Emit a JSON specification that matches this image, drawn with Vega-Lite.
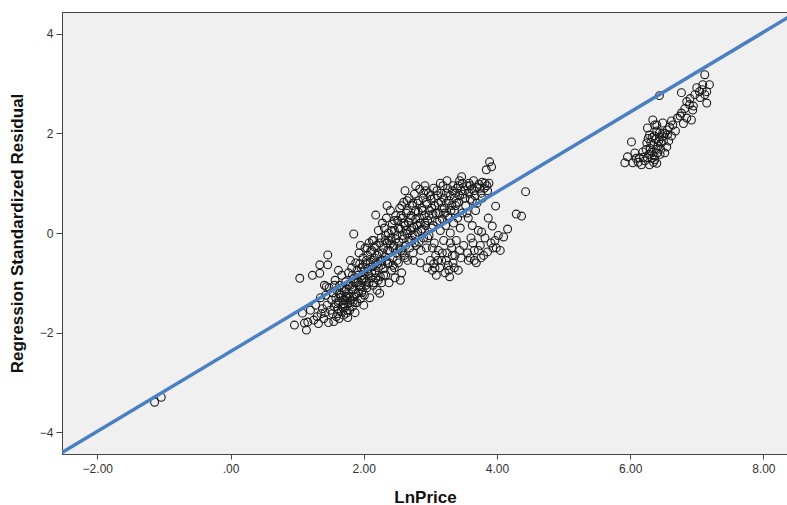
{
  "$schema": "https://vega.github.io/schema/vega-lite/v6.json",
  "width": 726,
  "height": 442,
  "autosize": {"type": "none"},
  "padding": {"left": 62, "top": 12, "right": 0, "bottom": 51},
  "background": "white",
  "config": {
    "view": {"fill": "#f0f0f0", "stroke": "#444444", "strokeWidth": 1},
    "font": "Liberation Sans",
    "axis": {"labelFont": "Liberation Sans", "titleFont": "Liberation Sans"}
  },
  "datasets": {
    "pts": [
      {"x":-1.14,"y":-3.40},{"x":-1.04,"y":-3.30},
      {"x":0.96,"y":-1.85},{"x":1.04,"y":-0.91},{"x":1.11,"y":-1.81},{"x":1.16,"y":-1.79},{"x":1.14,"y":-1.95},{"x":1.08,"y":-1.61},{"x":1.23,"y":-0.85},{"x":1.20,"y":-1.55},{"x":1.25,"y":-1.75},{"x":1.28,"y":-1.45},{"x":1.30,"y":-1.68},
      {"x":1.34,"y":-0.64},{"x":1.46,"y":-0.64},{"x":1.34,"y":-0.81},{"x":1.35,"y":-1.30},{"x":1.38,"y":-1.52},{"x":1.40,"y":-1.72},{"x":1.42,"y":-1.60},{"x":1.43,"y":-1.25},{"x":1.45,"y":-1.45},{"x":1.46,"y":-0.44},{"x":1.47,"y":-1.80},{"x":1.48,"y":-1.10},{"x":1.50,"y":-1.55},{"x":1.44,"y":-1.08},{"x":1.41,"y":-1.05},{"x":1.36,"y":-1.62},{"x":1.32,"y":-1.82},
      {"x":1.52,"y":-1.35},{"x":1.53,"y":-1.62},{"x":1.54,"y":-1.20},{"x":1.55,"y":-1.78},{"x":1.56,"y":-1.48},{"x":1.57,"y":-0.95},{"x":1.58,"y":-1.30},{"x":1.59,"y":-1.68},{"x":1.60,"y":-1.15},{"x":1.61,"y":-1.52},{"x":1.62,"y":-1.40},{"x":1.63,"y":-1.72},{"x":1.64,"y":-1.05},{"x":1.65,"y":-1.25},{"x":1.66,"y":-1.58},{"x":1.67,"y":-0.85},{"x":1.68,"y":-1.45},{"x":1.69,"y":-1.35},{"x":1.70,"y":-1.65},{"x":1.62,"y":-0.75},{"x":1.56,"y":-1.05},{"x":1.58,"y":-1.42},{"x":1.66,"y":-1.30},{"x":1.61,"y":-1.62},
      {"x":1.71,"y":-1.18},{"x":1.72,"y":-1.50},{"x":1.73,"y":-0.98},{"x":1.74,"y":-1.61},{"x":1.75,"y":-1.30},{"x":1.76,"y":-1.42},{"x":1.77,"y":-0.80},{"x":1.78,"y":-1.22},{"x":1.79,"y":-1.55},{"x":1.80,"y":-1.05},{"x":1.81,"y":-1.35},{"x":1.82,"y":-0.70},{"x":1.83,"y":-1.48},{"x":1.84,"y":-1.15},{"x":1.85,"y":-0.02},{"x":1.85,"y":-0.92},{"x":1.86,"y":-1.28},{"x":1.87,"y":-1.60},{"x":1.88,"y":-0.60},{"x":1.89,"y":-1.00},{"x":1.90,"y":-1.40},{"x":1.76,"y":-1.70},{"x":1.80,"y":-0.55},{"x":1.74,"y":-1.12},{"x":1.84,"y":-1.38},
      {"x":1.63,"y":-1.22},{"x":1.67,"y":-1.10},{"x":1.70,"y":-1.42},{"x":1.73,"y":-1.28},{"x":1.77,"y":-1.05},{"x":1.79,"y":-1.30},{"x":1.82,"y":-1.12},{"x":1.86,"y":-0.98},{"x":1.88,"y":-1.22},{"x":1.90,"y":-0.75},{"x":1.92,"y":-0.98},{"x":1.94,"y":-0.62},{"x":1.96,"y":-1.08},{"x":1.98,"y":-0.85},{"x":1.99,"y":-0.68},{"x":1.72,"y":-1.35},{"x":1.75,"y":-1.55},{"x":1.83,"y":-0.85},{"x":1.87,"y":-1.40},{"x":1.69,"y":-1.50},
      {"x":1.91,"y":-0.85},{"x":1.92,"y":-1.20},{"x":1.93,"y":-0.40},{"x":1.94,"y":-1.05},{"x":1.95,"y":-1.32},{"x":1.96,"y":-0.70},{"x":1.97,"y":-0.95},{"x":1.98,"y":-1.15},{"x":1.99,"y":-0.50},{"x":2.00,"y":-0.78},{"x":2.01,"y":-1.25},{"x":2.02,"y":-0.30},{"x":2.03,"y":-0.62},{"x":2.04,"y":-0.98},{"x":2.05,"y":-1.10},{"x":2.06,"y":-0.45},{"x":2.07,"y":-0.82},{"x":2.08,"y":-0.20},{"x":2.09,"y":-1.30},{"x":2.10,"y":-0.58},{"x":2.00,"y":-1.45},{"x":1.95,"y":-0.25},{"x":2.03,"y":-1.05},{"x":1.97,"y":-1.20},
      {"x":2.01,"y":-0.92},{"x":2.04,"y":-0.55},{"x":2.06,"y":-0.72},{"x":2.08,"y":-1.00},{"x":2.10,"y":-0.38},{"x":2.12,"y":-0.80},{"x":2.14,"y":-0.55},{"x":2.16,"y":-0.28},{"x":2.18,"y":-0.90},{"x":2.20,"y":-0.45},{"x":2.22,"y":-0.70},{"x":2.24,"y":-0.20},{"x":2.26,"y":-0.65},{"x":2.28,"y":-0.40},{"x":2.30,"y":-0.85},{"x":2.32,"y":-0.15},{"x":2.34,"y":-0.55},{"x":2.36,"y":-0.35},{"x":2.38,"y":-0.60},{"x":2.40,"y":-0.22},{"x":2.05,"y":-0.30},{"x":2.13,"y":-0.15},{"x":2.27,"y":-1.00},{"x":2.33,"y":-0.05},
      {"x":2.11,"y":-0.90},{"x":2.12,"y":-0.35},{"x":2.13,"y":-0.68},{"x":2.14,"y":-1.05},{"x":2.15,"y":-0.15},{"x":2.16,"y":-0.50},{"x":2.17,"y":-0.80},{"x":2.18,"y":0.36},{"x":2.19,"y":-0.25},{"x":2.20,"y":-1.15},{"x":2.21,"y":-0.62},{"x":2.22,"y":0.05},{"x":2.23,"y":-0.42},{"x":2.24,"y":-1.21},{"x":2.25,"y":-0.88},{"x":2.26,"y":-0.10},{"x":2.27,"y":-0.55},{"x":2.28,"y":0.20},{"x":2.29,"y":-0.72},{"x":2.30,"y":-0.30},{"x":2.15,"y":-1.00},{"x":2.22,"y":-0.95},{"x":2.18,"y":-0.60},
      {"x":2.31,"y":0.10},{"x":2.32,"y":-0.48},{"x":2.33,"y":-0.85},{"x":2.34,"y":0.30},{"x":2.35,"y":-0.20},{"x":2.36,"y":-0.62},{"x":2.37,"y":0.00},{"x":2.38,"y":-1.00},{"x":2.39,"y":-0.35},{"x":2.40,"y":0.45},{"x":2.41,"y":-0.10},{"x":2.42,"y":-0.75},{"x":2.43,"y":0.18},{"x":2.44,"y":-0.50},{"x":2.45,"y":-0.25},{"x":2.46,"y":0.05},{"x":2.47,"y":-0.90},{"x":2.48,"y":0.35},{"x":2.49,"y":-0.40},{"x":2.50,"y":-0.05},{"x":2.35,"y":0.55},{"x":2.44,"y":-0.65},{"x":2.38,"y":-0.15},
      {"x":2.42,"y":0.05},{"x":2.44,"y":-0.30},{"x":2.46,"y":0.25},{"x":2.48,"y":-0.12},{"x":2.50,"y":-0.55},{"x":2.52,"y":0.10},{"x":2.54,"y":-0.30},{"x":2.56,"y":0.35},{"x":2.58,"y":-0.05},{"x":2.60,"y":0.20},{"x":2.62,"y":-0.50},{"x":2.64,"y":0.05},{"x":2.66,"y":0.45},{"x":2.68,"y":-0.15},{"x":2.70,"y":0.30},{"x":2.72,"y":0.10},{"x":2.74,"y":0.60},{"x":2.76,"y":-0.20},{"x":2.78,"y":0.45},{"x":2.80,"y":0.15},{"x":2.46,"y":-0.70},{"x":2.57,"y":0.55},{"x":2.65,"y":0.65},{"x":2.73,"y":-0.05},
      {"x":2.51,"y":0.25},{"x":2.52,"y":-0.60},{"x":2.53,"y":-0.18},{"x":2.54,"y":0.50},{"x":2.55,"y":0.08},{"x":2.56,"y":-0.35},{"x":2.57,"y":-0.80},{"x":2.58,"y":0.30},{"x":2.59,"y":-0.12},{"x":2.60,"y":0.62},{"x":2.61,"y":-0.45},{"x":2.62,"y":0.15},{"x":2.63,"y":-0.25},{"x":2.64,"y":0.40},{"x":2.65,"y":-0.02},{"x":2.66,"y":-0.55},{"x":2.67,"y":0.22},{"x":2.68,"y":0.70},{"x":2.69,"y":-0.30},{"x":2.70,"y":0.05},{"x":2.55,"y":-0.95},{"x":2.62,"y":0.85},{"x":2.58,"y":-0.40},
      {"x":2.71,"y":0.35},{"x":2.72,"y":-0.15},{"x":2.73,"y":0.55},{"x":2.74,"y":-0.40},{"x":2.75,"y":0.12},{"x":2.76,"y":0.78},{"x":2.77,"y":-0.05},{"x":2.78,"y":0.28},{"x":2.79,"y":-0.25},{"x":2.80,"y":0.60},{"x":2.81,"y":0.02},{"x":2.82,"y":0.42},{"x":2.83,"y":-0.18},{"x":2.84,"y":0.88},{"x":2.85,"y":0.20},{"x":2.86,"y":-0.35},{"x":2.87,"y":0.50},{"x":2.88,"y":0.08},{"x":2.89,"y":0.70},{"x":2.90,"y":-0.10},{"x":2.75,"y":-0.55},{"x":2.85,"y":-0.60},{"x":2.78,"y":0.95},
      {"x":2.82,"y":0.65},{"x":2.84,"y":0.30},{"x":2.86,"y":0.05},{"x":2.88,"y":0.45},{"x":2.90,"y":0.80},{"x":2.92,"y":0.20},{"x":2.94,"y":0.62},{"x":2.96,"y":-0.10},{"x":2.98,"y":0.35},{"x":3.00,"y":0.75},{"x":3.02,"y":0.50},{"x":3.04,"y":0.15},{"x":3.06,"y":0.70},{"x":3.08,"y":0.40},{"x":3.10,"y":0.85},{"x":3.12,"y":0.60},{"x":3.14,"y":0.25},{"x":3.16,"y":0.80},{"x":3.18,"y":0.50},{"x":3.20,"y":0.70},{"x":2.93,"y":0.85},{"x":3.03,"y":-0.30},{"x":3.11,"y":-0.55},{"x":3.18,"y":-0.40},{"x":3.07,"y":-0.70},
      {"x":2.91,"y":0.35},{"x":2.92,"y":0.95},{"x":2.93,"y":0.15},{"x":2.94,"y":-0.30},{"x":2.95,"y":0.58},{"x":2.96,"y":0.25},{"x":2.97,"y":0.80},{"x":2.98,"y":-0.05},{"x":2.99,"y":0.45},{"x":3.00,"y":-0.55},{"x":3.01,"y":0.68},{"x":3.02,"y":0.10},{"x":3.03,"y":-0.75},{"x":3.04,"y":0.38},{"x":3.05,"y":0.90},{"x":3.06,"y":-0.20},{"x":3.07,"y":0.55},{"x":3.08,"y":-0.45},{"x":3.09,"y":-0.85},{"x":3.10,"y":0.22},{"x":2.95,"y":-0.70},{"x":3.05,"y":-0.62},
      {"x":3.11,"y":0.75},{"x":3.12,"y":-0.35},{"x":3.13,"y":0.40},{"x":3.14,"y":-0.70},{"x":3.15,"y":0.05},{"x":3.16,"y":0.62},{"x":3.17,"y":-0.55},{"x":3.18,"y":0.28},{"x":3.19,"y":0.95},{"x":3.20,"y":-0.15},{"x":3.21,"y":0.50},{"x":3.22,"y":-0.80},{"x":3.23,"y":0.15},{"x":3.24,"y":0.80},{"x":3.25,"y":-0.40},{"x":3.26,"y":0.35},{"x":3.27,"y":-0.65},{"x":3.28,"y":0.65},{"x":3.29,"y":-0.88},{"x":3.30,"y":0.00},{"x":3.15,"y":1.00},{"x":3.25,"y":1.05},
      {"x":3.22,"y":0.40},{"x":3.24,"y":0.60},{"x":3.26,"y":0.90},{"x":3.28,"y":0.30},{"x":3.30,"y":0.75},{"x":3.32,"y":0.55},{"x":3.34,"y":0.95},{"x":3.36,"y":0.45},{"x":3.38,"y":0.80},{"x":3.40,"y":0.60},{"x":3.42,"y":0.95},{"x":3.44,"y":0.75},{"x":3.46,"y":0.85},{"x":3.48,"y":1.00},{"x":3.24,"y":-0.55},{"x":3.28,"y":-0.75},{"x":3.33,"y":-0.45},{"x":3.36,"y":-0.70},{"x":3.30,"y":-0.20},{"x":3.44,"y":-0.35},
      {"x":3.31,"y":0.45},{"x":3.32,"y":-0.30},{"x":3.33,"y":0.85},{"x":3.34,"y":-0.60},{"x":3.35,"y":0.20},{"x":3.36,"y":0.70},{"x":3.37,"y":-0.45},{"x":3.38,"y":0.55},{"x":3.39,"y":-0.15},{"x":3.40,"y":0.90},{"x":3.41,"y":0.30},{"x":3.42,"y":-0.75},{"x":3.43,"y":0.62},{"x":3.44,"y":1.05},{"x":3.45,"y":0.10},{"x":3.46,"y":-0.50},{"x":3.47,"y":1.13},{"x":3.48,"y":0.40},{"x":3.49,"y":0.78},{"x":3.50,"y":-0.25},
      {"x":3.52,"y":0.85},{"x":3.53,"y":0.55},{"x":3.55,"y":0.95},{"x":3.56,"y":-0.40},{"x":3.57,"y":0.30},{"x":3.58,"y":1.00},{"x":3.60,"y":0.68},{"x":3.61,"y":-0.10},{"x":3.62,"y":0.88},{"x":3.63,"y":0.15},{"x":3.65,"y":1.05},{"x":3.66,"y":-0.35},{"x":3.67,"y":0.75},{"x":3.68,"y":0.45},{"x":3.69,"y":-0.60},{"x":3.70,"y":0.92},{"x":3.57,"y":-0.55},{"x":3.64,"y":-0.20},
      {"x":3.52,"y":0.70},{"x":3.55,"y":0.40},{"x":3.58,"y":0.80},{"x":3.60,"y":0.95},{"x":3.63,"y":0.65},{"x":3.66,"y":0.85},{"x":3.70,"y":0.60},{"x":3.74,"y":0.90},{"x":3.78,"y":0.70},{"x":3.82,"y":1.00},{"x":3.86,"y":0.85},{"x":3.60,"y":-0.50},{"x":3.66,"y":-0.55},{"x":3.72,"y":-0.35},{"x":3.76,"y":-0.50},
      {"x":3.72,"y":0.05},{"x":3.73,"y":0.98},{"x":3.75,"y":-0.25},{"x":3.76,"y":0.80},{"x":3.77,"y":0.02},{"x":3.78,"y":1.02},{"x":3.80,"y":-0.45},{"x":3.81,"y":0.90},{"x":3.82,"y":-0.10},{"x":3.84,"y":1.27},{"x":3.85,"y":0.95},{"x":3.86,"y":-0.38},{"x":3.87,"y":0.30},{"x":3.88,"y":1.00},{"x":3.89,"y":1.43},{"x":3.91,"y":-0.20},{"x":3.92,"y":1.33},{"x":3.93,"y":0.14},{"x":3.94,"y":-0.30},
      {"x":3.98,"y":0.54},{"x":3.99,"y":-0.30},{"x":4.02,"y":-0.05},{"x":4.05,"y":-0.35},{"x":4.10,"y":-0.08},{"x":4.16,"y":0.08},{"x":4.29,"y":0.38},{"x":4.37,"y":0.34},{"x":4.43,"y":0.83},{"x":3.97,"y":-0.15},
      {"x":6.44,"y":2.76},{"x":6.77,"y":2.82},{"x":7.00,"y":2.92},{"x":7.09,"y":2.98},{"x":7.19,"y":2.98},{"x":7.12,"y":3.18},{"x":7.15,"y":2.84},{"x":7.04,"y":2.84},{"x":6.97,"y":2.78},{"x":6.85,"y":2.64},{"x":7.15,"y":2.61},{"x":6.89,"y":2.58},{"x":6.94,"y":2.47},{"x":6.77,"y":2.41},{"x":6.85,"y":2.31},{"x":6.71,"y":2.31},{"x":6.92,"y":2.27},{"x":6.64,"y":2.17},{"x":6.56,"y":2.07},{"x":6.49,"y":2.01},{"x":6.34,"y":2.27},{"x":6.40,"y":2.17},{"x":6.26,"y":2.11},{"x":6.44,"y":1.93},
      {"x":6.37,"y":2.17},{"x":6.49,"y":2.21},{"x":6.59,"y":2.13},{"x":6.29,"y":1.97},{"x":6.44,"y":2.01},{"x":6.56,"y":1.97},{"x":6.25,"y":1.81},{"x":6.34,"y":1.77},{"x":6.47,"y":1.81},{"x":6.55,"y":1.73},{"x":6.19,"y":1.63},{"x":6.32,"y":1.63},{"x":6.41,"y":1.61},{"x":6.52,"y":1.61},{"x":6.14,"y":1.51},{"x":6.26,"y":1.51},{"x":6.37,"y":1.47},{"x":5.96,"y":1.53},{"x":5.92,"y":1.41},{"x":6.04,"y":1.41},{"x":6.17,"y":1.37},{"x":6.29,"y":1.37},{"x":6.07,"y":1.61},{"x":6.02,"y":1.83},
      {"x":6.38,"y":1.88},{"x":6.30,"y":1.70},{"x":6.42,"y":1.75},{"x":6.36,"y":1.55},{"x":6.22,"y":1.45},{"x":6.46,"y":1.68},{"x":6.33,"y":1.92},{"x":6.40,"y":2.05},{"x":6.28,"y":1.58},{"x":6.50,"y":1.85},{"x":6.62,"y":1.95},{"x":6.68,"y":2.05},{"x":6.80,"y":2.20},{"x":7.05,"y":2.72},{"x":7.12,"y":2.78},{"x":6.90,"y":2.70},
      {"x":6.20,"y":1.52},{"x":6.24,"y":1.68},{"x":6.31,"y":1.82},{"x":6.35,"y":1.42},{"x":6.39,"y":1.68},{"x":6.43,"y":1.85},{"x":6.45,"y":1.58},{"x":6.48,"y":1.93},{"x":6.33,"y":1.50},{"x":6.27,"y":1.90},{"x":6.40,"y":1.40},{"x":6.52,"y":2.00},{"x":6.58,"y":1.85},{"x":6.12,"y":1.42},{"x":6.09,"y":1.50},{"x":6.36,"y":1.95},{"x":6.62,"y":2.25},{"x":6.75,"y":2.35},{"x":6.95,"y":2.55},{"x":7.08,"y":2.88},{"x":6.82,"y":2.50}
    ],
    "fit": [
      {"x":-2.53,"y":-4.41},{"x":8.37,"y":4.33}
    ]
  },
  "layer": [
    {
      "data": {"name": "pts"},
      "mark": {"type": "point", "shape": "circle", "filled": false, "size": 62, "stroke": "#1a1a1a", "strokeWidth": 1.1, "opacity": 1, "clip": true},
      "encoding": {
        "x": {
          "field": "x", "type": "quantitative",
          "scale": {"domain": [-2.53, 8.37], "nice": false, "zero": false},
          "axis": {
            "title": "LnPrice",
            "values": [-2, 0, 2, 4, 6, 8],
            "labelExpr": "datum.value == 0 ? '.00' : format(datum.value, '.2f')",
            "grid": false,
            "domainColor": "#444444",
            "tickColor": "#444444",
            "tickSize": 5,
            "labelColor": "#333333",
            "labelFontSize": 12,
            "labelPadding": 4,
            "titleFontSize": 17,
            "titleFontWeight": "bold",
            "titleColor": "#111111",
            "titleBaseline": "alphabetic",
            "titleY": 48
          }
        },
        "y": {
          "field": "y", "type": "quantitative",
          "scale": {"domain": [-4.44, 4.44], "nice": false, "zero": false},
          "axis": {
            "title": "Regression Standardized Residual",
            "values": [-4, -2, 0, 2, 4],
            "format": "d",
            "grid": false,
            "domainColor": "#444444",
            "tickColor": "#444444",
            "tickSize": 6,
            "labelColor": "#333333",
            "labelFontSize": 12,
            "labelPadding": 3,
            "titleFontSize": 17,
            "titleFontWeight": "bold",
            "titleColor": "#111111",
            "titleX": -36
          }
        }
      }
    },
    {
      "data": {"name": "fit"},
      "mark": {"type": "line", "color": "#4a7fc1", "strokeWidth": 3.5, "clip": true},
      "encoding": {
        "x": {"field": "x", "type": "quantitative"},
        "y": {"field": "y", "type": "quantitative"}
      }
    }
  ]
}
